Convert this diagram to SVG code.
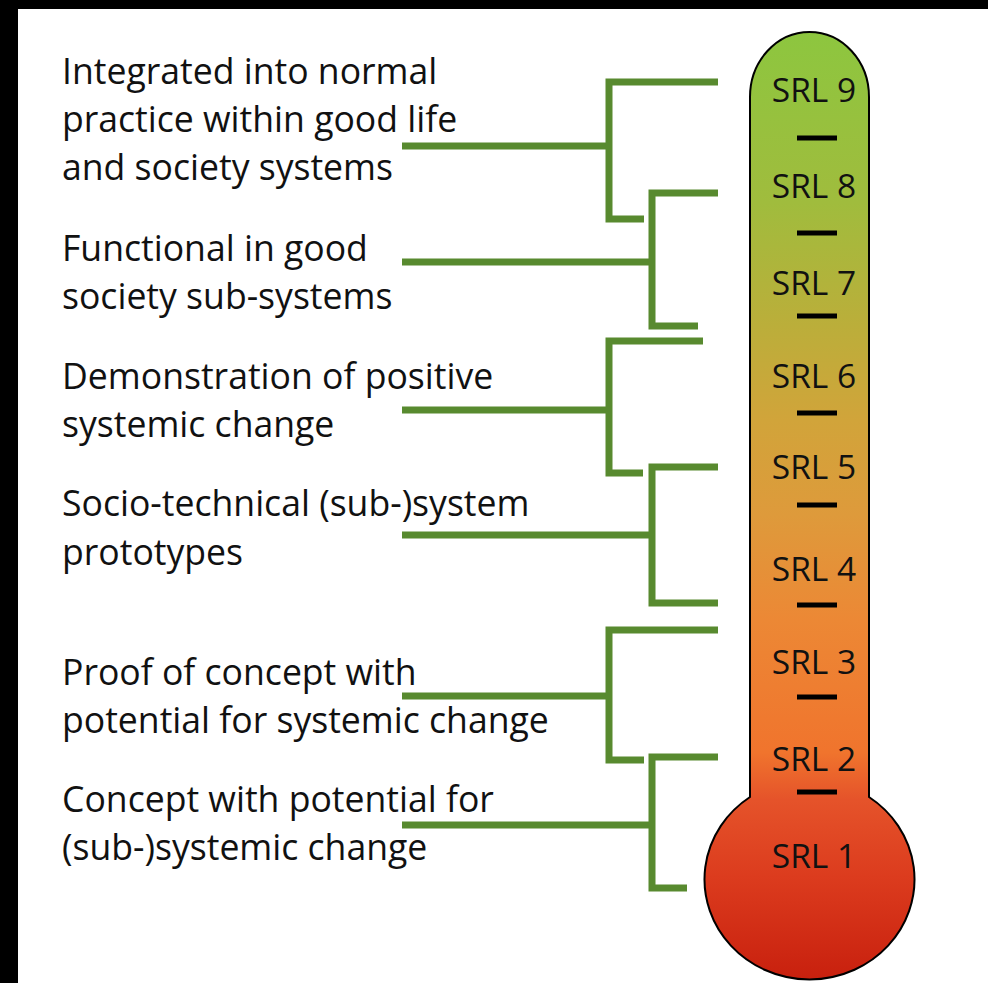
<svg xmlns="http://www.w3.org/2000/svg" width="988" height="983" viewBox="0 0 988 983">
<defs>
<linearGradient id="thermo" gradientUnits="userSpaceOnUse" x1="0" y1="32" x2="0" y2="980">
<stop offset="0" stop-color="#8DC63F"/>
<stop offset="0.18" stop-color="#A0BC3D"/>
<stop offset="0.31" stop-color="#BBAE3A"/>
<stop offset="0.41" stop-color="#D1A43A"/>
<stop offset="0.51" stop-color="#DE9A3B"/>
<stop offset="0.62" stop-color="#EC8835"/>
<stop offset="0.76" stop-color="#F0742D"/>
<stop offset="0.81" stop-color="#E5532A"/>
<stop offset="0.89" stop-color="#DC3C1E"/>
<stop offset="1" stop-color="#C8200E"/>
</linearGradient>
<style>
.lbl{font-family:"Open Sans","Noto Sans","Liberation Sans",sans-serif;font-size:35.6px;fill:#111;}
.srl{font-family:"Open Sans","Noto Sans","Liberation Sans",sans-serif;font-size:33.5px;fill:#111;text-anchor:middle;}
.br{fill:none;stroke:#588A2F;stroke-width:7;stroke-linejoin:miter;stroke-linecap:butt;}
.dash{stroke:#000;stroke-width:5;}
</style>
</defs>
<rect x="0" y="0" width="988" height="983" fill="#000"/>
<rect x="18" y="9" width="970" height="974" fill="#fff"/>

<g id="thermometer">
<path d="M750,97 A59.5,65 0 0 1 869,97 L869,797 A105,100 0 1 1 750,797 Z" fill="url(#thermo)" stroke="#000" stroke-width="2"/>
<g id="ticks">
<line class="dash" x1="797" y1="138" x2="837" y2="138"/>
<line class="dash" x1="797" y1="233" x2="837" y2="233"/>
<line class="dash" x1="797" y1="316" x2="837" y2="316"/>
<line class="dash" x1="797" y1="413" x2="837" y2="413"/>
<line class="dash" x1="797" y1="505" x2="837" y2="505"/>
<line class="dash" x1="797" y1="605" x2="837" y2="605"/>
<line class="dash" x1="797" y1="697" x2="837" y2="697"/>
<line class="dash" x1="797" y1="792" x2="837" y2="792"/>
</g>
<g id="srl-labels">
<text class="srl" x="814" y="102">SRL 9</text>
<text class="srl" x="814" y="198">SRL 8</text>
<text class="srl" x="814" y="295">SRL 7</text>
<text class="srl" x="814" y="388">SRL 6</text>
<text class="srl" x="814" y="479">SRL 5</text>
<text class="srl" x="814" y="581">SRL 4</text>
<text class="srl" x="814" y="674">SRL 3</text>
<text class="srl" x="814" y="771">SRL 2</text>
<text class="srl" x="814" y="868">SRL 1</text>
</g>
</g>

<g id="connectors">
<path class="br" d="M402,146 H609"/>
<path class="br" d="M718,82 H609 V219 H644"/>
<path class="br" d="M402,262 H652"/>
<path class="br" d="M718,193 H652 V326 H698"/>
<path class="br" d="M402,410 H609"/>
<path class="br" d="M703,341 H609 V473 H643"/>
<path class="br" d="M402,535 H652"/>
<path class="br" d="M718,467 H652 V603 H718"/>
<path class="br" d="M402,696 H609"/>
<path class="br" d="M718,630 H609 V760 H644"/>
<path class="br" d="M402,825 H652"/>
<path class="br" d="M718,757 H652 V888 H687"/>
</g>

<g id="level-9">
<text class="lbl" x="62" y="84">Integrated into normal</text>
<text class="lbl" x="62" y="132">practice within good life</text>
<text class="lbl" x="62" y="180">and society systems</text>
</g>
<g id="level-7">
<text class="lbl" x="62" y="261">Functional in good</text>
<text class="lbl" x="62" y="309">society sub-systems</text>
</g>
<g id="level-5">
<text class="lbl" x="62" y="389">Demonstration of positive</text>
<text class="lbl" x="62" y="437">systemic change</text>
</g>
<g id="level-4">
<text class="lbl" x="62" y="516">Socio-technical (sub-)system</text>
<text class="lbl" x="62" y="565">prototypes</text>
</g>
<g id="level-3">
<text class="lbl" x="62" y="685">Proof of concept with</text>
<text class="lbl" x="62" y="733">potential for systemic change</text>
</g>
<g id="level-1">
<text class="lbl" x="62" y="812">Concept with potential for</text>
<text class="lbl" x="62" y="860">(sub-)systemic change</text>
</g>
</svg>
